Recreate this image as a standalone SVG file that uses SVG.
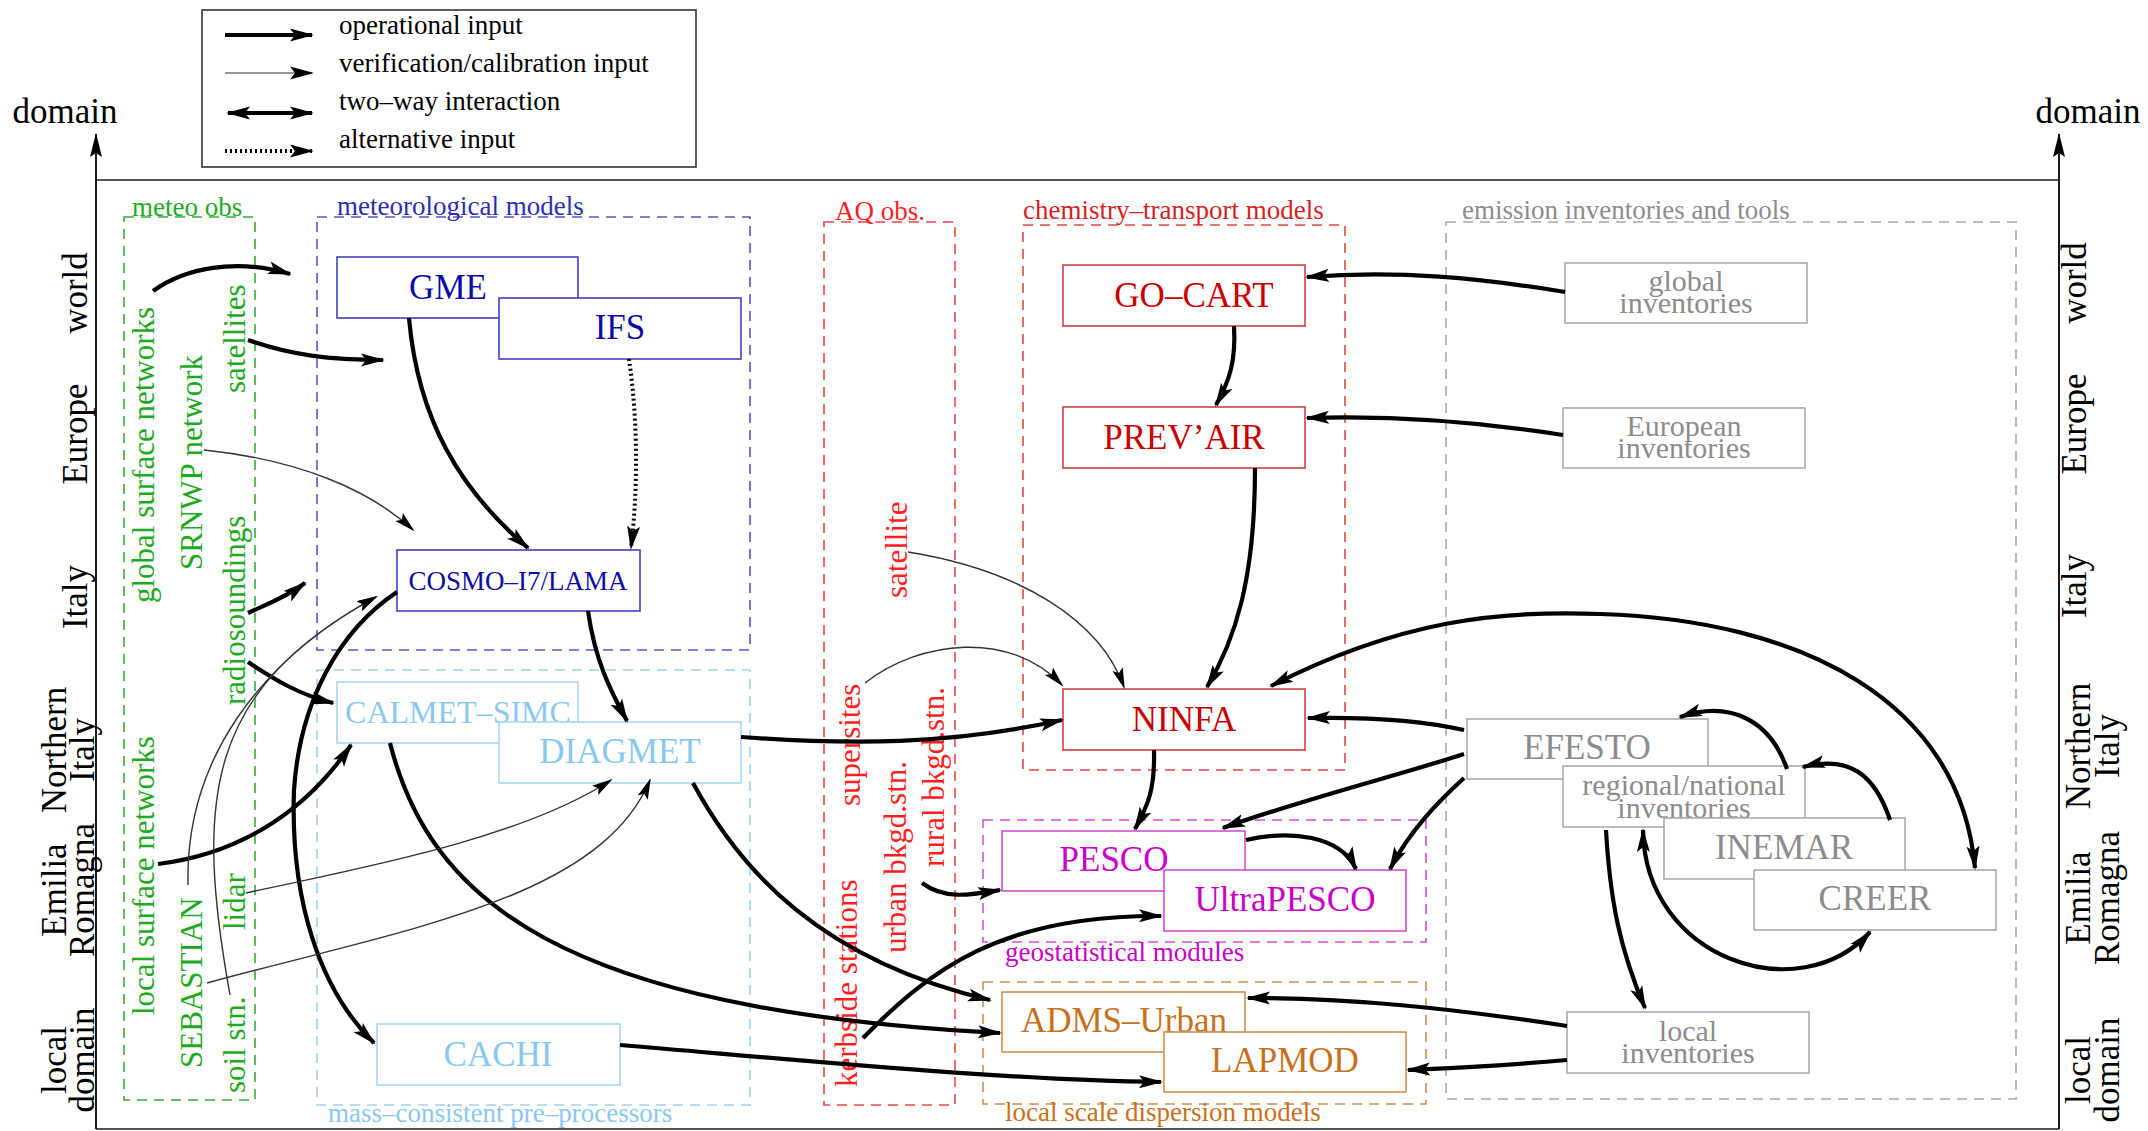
<svg xmlns="http://www.w3.org/2000/svg" width="2148" height="1131" viewBox="0 0 2148 1131">
<defs>
<marker id="ah" markerWidth="26" markerHeight="16" refX="22" refY="8" orient="auto" markerUnits="userSpaceOnUse"><path d="M0,1.5 L24,8 L0,14.5 L5,8 z" fill="#000"/></marker>
<marker id="ah2" markerWidth="26" markerHeight="16" refX="22" refY="8" orient="auto-start-reverse" markerUnits="userSpaceOnUse"><path d="M0,1.5 L24,8 L0,14.5 L5,8 z" fill="#000"/></marker>
<marker id="at" markerWidth="22" markerHeight="14" refX="19" refY="7" orient="auto" markerUnits="userSpaceOnUse"><path d="M0,1.5 L21,7 L0,12.5 L4,7 z" fill="#000"/></marker>
<marker id="ax" markerWidth="14" markerHeight="26" refX="6" refY="1" orient="0" markerUnits="userSpaceOnUse"><path d="M6,0 L12,24 L6,20 L0,24 z" fill="#000"/></marker>
</defs>
<style>
text{font-family:"Liberation Serif","Times New Roman",serif}
.axl{font-size:35px;fill:#000}
.lgt{font-size:27px;fill:#000}
.gl{font-size:27px}
.nd{font-size:35px;text-anchor:middle}
.nd2{font-size:30px;text-anchor:middle}
.ob{font-size:31px}
.grp{fill:none;stroke-width:1.6;stroke-dasharray:10 7}
.box{fill:#fff;stroke-width:1.6}
.op{fill:none;stroke:#000;stroke-width:4.2;marker-end:url(#ah)}
.tw{fill:none;stroke:#000;stroke-width:4.2;marker-start:url(#ah2);marker-end:url(#ah2)}
.al{fill:none;stroke:#000;stroke-width:4;stroke-dasharray:2 3;marker-end:url(#ah)}
.vf{fill:none;stroke:#333;stroke-width:1.4;marker-end:url(#at)}
.green{fill:#1eaa1e}.blue{fill:#0b0ba8}.lblue{fill:#88c8f0}.red{fill:#c80000}.bred{fill:#ff1f1f}.mag{fill:#c800c8}.orng{fill:#c8701a}.gray{fill:#8c8c8c}
</style>
<rect width="2148" height="1131" fill="#fff"/>

<g id="frame">
<line x1="96" y1="180" x2="2059" y2="180" stroke="#555" stroke-width="2"/>
<line x1="96" y1="1129" x2="2059" y2="1129" stroke="#555" stroke-width="2"/>
<line x1="96" y1="1129" x2="96" y2="134" stroke="#000" stroke-width="1.8" marker-end="url(#ax)"/>
<line x1="2059" y1="1129" x2="2059" y2="134" stroke="#000" stroke-width="1.8" marker-end="url(#ax)"/>
<text class="axl" x="65" y="123" text-anchor="middle">domain</text>
<text class="axl" x="2088" y="123" text-anchor="middle">domain</text>
<g class="axl" text-anchor="middle">
<text transform="translate(87,293) rotate(-90)">world</text>
<text transform="translate(87,434) rotate(-90)">Europe</text>
<text transform="translate(87,597) rotate(-90)">Italy</text>
<text transform="translate(66,750) rotate(-90)">Northern</text>
<text transform="translate(94,750) rotate(-90)">Italy</text>
<text transform="translate(66,890) rotate(-90)">Emilia</text>
<text transform="translate(94,890) rotate(-90)">Romagna</text>
<text transform="translate(66,1060) rotate(-90)">local</text>
<text transform="translate(94,1060) rotate(-90)">domain</text>
<text transform="translate(2086,283) rotate(-90)">world</text>
<text transform="translate(2086,424) rotate(-90)">Europe</text>
<text transform="translate(2086,586) rotate(-90)">Italy</text>
<text transform="translate(2090,746) rotate(-90)">Northern</text>
<text transform="translate(2119,746) rotate(-90)">Italy</text>
<text transform="translate(2090,898) rotate(-90)">Emilia</text>
<text transform="translate(2119,898) rotate(-90)">Romagna</text>
<text transform="translate(2090,1070) rotate(-90)">local</text>
<text transform="translate(2119,1070) rotate(-90)">domain</text>
</g>
</g>

<g id="legend">
<rect x="202" y="10" width="494" height="157" fill="#fff" stroke="#333" stroke-width="1.6"/>
<path d="M225,35 L312,35" class="op"/>
<path d="M225,73 L312,73" fill="none" stroke="#777" stroke-width="1.6" marker-end="url(#ah)"/>
<path d="M228,113 L312,113" class="tw"/>
<path d="M225,151 L312,151" class="al"/>
<text class="lgt" x="339" y="34">operational input</text>
<text class="lgt" x="339" y="72">verification/calibration input</text>
<text class="lgt" x="339" y="110">two–way interaction</text>
<text class="lgt" x="339" y="148">alternative input</text>
</g>

<g id="group-meteo-obs">
<rect class="grp" x="124" y="217" width="131" height="883" stroke="#3aaa3a"/>
<text class="gl green" x="132" y="216">meteo obs</text>
<g class="ob green">
<text transform="translate(154,603) rotate(-90)">global surface networks</text>
<text transform="translate(202,570) rotate(-90)">SRNWP network</text>
<text transform="translate(245,393) rotate(-90)">satellites</text>
<text transform="translate(245,705) rotate(-90)">radiosoundings</text>
<text transform="translate(154,1015) rotate(-90)">local surface networks</text>
<text transform="translate(202,1068) rotate(-90)">SEBASTIAN</text>
<text transform="translate(245,930) rotate(-90)">lidar</text>
<text transform="translate(245,1093) rotate(-90)">soil stn.</text>
</g>
</g>

<g id="group-meteorological-models">
<rect class="grp" x="317" y="217" width="433" height="433" stroke="#5555c8"/>
<text class="gl" x="337" y="215" fill="#2d2db5">meteorological models</text>
</g>
<g id="node-GME"><rect class="box" x="337" y="257" width="241" height="61" stroke="#4040c0"/><text class="nd blue" x="448" y="299">GME</text></g>
<g id="node-IFS"><rect class="box" x="499" y="298" width="242" height="61" stroke="#4040c0"/><text class="nd blue" x="620" y="339">IFS</text></g>
<g id="node-COSMO"><rect class="box" x="397" y="550" width="243" height="61" stroke="#4040c0"/><text class="nd blue" style="font-size:27px" x="518" y="590">COSMO–I7/LAMA</text></g>

<g id="group-mass-consistent">
<rect class="grp" x="317" y="670" width="433" height="435" stroke="#a0d0f0"/>
<text class="gl lblue" x="328" y="1122">mass–consistent pre–processors</text>
</g>
<g id="node-CALMET"><rect class="box" x="337" y="682" width="241" height="61" stroke="#a8d8f5"/><text class="nd lblue" style="font-size:32px" x="458" y="723">CALMET–SIMC</text></g>
<g id="node-DIAGMET"><rect class="box" x="499" y="722" width="242" height="61" stroke="#a8d8f5"/><text class="nd lblue" x="620" y="763">DIAGMET</text></g>
<g id="node-CACHI"><rect class="box" x="377" y="1024" width="243" height="61" stroke="#a8d8f5"/><text class="nd lblue" x="498" y="1066">CACHI</text></g>

<g id="group-aq-obs">
<rect class="grp" x="824" y="222" width="131" height="883" stroke="#e84848"/>
<text class="gl bred" x="835" y="220">AQ obs.</text>
<g class="ob bred">
<text transform="translate(907,598) rotate(-90)">satellite</text>
<text transform="translate(860,806) rotate(-90)">supersites</text>
<text transform="translate(857,1087) rotate(-90)">kerbside stations</text>
<text transform="translate(906,953) rotate(-90)">urban bkgd.stn.</text>
<text transform="translate(944,867) rotate(-90)">rural bkgd.stn.</text>
</g>
</g>

<g id="group-chemistry-transport">
<rect class="grp" x="1023" y="225" width="322" height="545" stroke="#e04848"/>
<text class="gl" x="1023" y="219" fill="#d81e1e">chemistry–transport models</text>
</g>
<g id="node-GOCART"><rect class="box" x="1063" y="265" width="242" height="61" stroke="#d04040"/><text class="nd red" x="1194" y="307">GO–CART</text></g>
<g id="node-PREVAIR"><rect class="box" x="1063" y="407" width="242" height="61" stroke="#d04040"/><text class="nd red" x="1184" y="449">PREV’AIR</text></g>
<g id="node-NINFA"><rect class="box" x="1063" y="689" width="242" height="61" stroke="#d04040"/><text class="nd red" x="1184" y="731">NINFA</text></g>

<g id="group-geostatistical">
<rect class="grp" x="983" y="820" width="443" height="122" stroke="#d050d0"/>
<text class="gl mag" x="1005" y="961">geostatistical modules</text>
</g>
<g id="node-PESCO"><rect class="box" x="1002" y="831" width="243" height="60" stroke="#d050d0"/><text class="nd mag" x="1114" y="871">PESCO</text></g>
<g id="node-UltraPESCO"><rect class="box" x="1164" y="870" width="242" height="61" stroke="#d050d0"/><text class="nd mag" x="1285" y="911">UltraPESCO</text></g>

<g id="group-local-dispersion">
<rect class="grp" x="983" y="982" width="443" height="122" stroke="#c89050"/>
<text class="gl orng" x="1005" y="1121">local scale dispersion models</text>
</g>
<g id="node-ADMS"><rect class="box" x="1002" y="992" width="243" height="60" stroke="#d09050"/><text class="nd orng" x="1124" y="1032">ADMS–Urban</text></g>
<g id="node-LAPMOD"><rect class="box" x="1164" y="1032" width="242" height="60" stroke="#d09050"/><text class="nd orng" x="1285" y="1072">LAPMOD</text></g>

<g id="group-emission">
<rect class="grp" x="1446" y="222" width="570" height="877" stroke="#a8a8a8"/>
<text class="gl gray" x="1462" y="219">emission inventories and tools</text>
</g>
<g id="node-global-inv"><rect class="box" x="1565" y="263" width="242" height="60" stroke="#aaa"/><text class="nd2 gray" x="1686" y="291">global</text><text class="nd2 gray" x="1686" y="313">inventories</text></g>
<g id="node-european-inv"><rect class="box" x="1563" y="408" width="242" height="60" stroke="#aaa"/><text class="nd2 gray" x="1684" y="436">European</text><text class="nd2 gray" x="1684" y="458">inventories</text></g>
<g id="node-EFESTO"><rect class="box" x="1467" y="719" width="241" height="60" stroke="#aaa"/><text class="nd gray" x="1587" y="759">EFESTO</text></g>
<g id="node-regional-inv"><rect class="box" x="1563" y="766" width="242" height="61" stroke="#aaa"/><text class="nd2 gray" x="1684" y="795">regional/national</text><text class="nd2 gray" x="1684" y="818">inventories</text></g>
<g id="node-INEMAR"><rect class="box" x="1664" y="818" width="241" height="61" stroke="#aaa"/><text class="nd gray" x="1784" y="859">INEMAR</text></g>
<g id="node-CREER"><rect class="box" x="1754" y="870" width="242" height="60" stroke="#aaa"/><text class="nd gray" x="1875" y="910">CREER</text></g>
<g id="node-local-inv"><rect class="box" x="1567" y="1012" width="242" height="61" stroke="#aaa"/><text class="nd2 gray" x="1688" y="1041">local</text><text class="nd2 gray" x="1688" y="1063">inventories</text></g>

<g id="connectors">
<path class="op" d="M153,291 C185,268 235,258 290,274"/>
<path class="op" d="M248,340 C290,355 330,360 383,360"/>
<path class="op" d="M248,613 C265,605 285,598 305,583"/>
<path class="op" d="M248,662 C275,680 300,695 333,703"/>
<path class="op" d="M409,318 C418,420 460,490 528,548"/>
<path class="al" d="M629,359 C638,420 638,490 631,548"/>
<path class="op" d="M588,611 C595,660 610,690 627,721"/>
<path class="op" d="M397,592 C340,630 300,700 294,790 C290,900 320,990 374,1043"/>
<path class="op" d="M158,864 C230,855 300,820 351,745"/>
<path class="op" d="M390,743 C430,900 560,1010 1000,1033"/>
<path class="op" d="M693,783 C740,870 820,960 990,1000"/>
<path class="op" d="M620,1045 C800,1060 1000,1080 1161,1082"/>
<path class="op" d="M741,737 C850,745 950,745 1062,720"/>
<path class="op" d="M1234,326 C1236,360 1230,380 1216,405"/>
<path class="op" d="M1255,468 C1255,580 1235,640 1207,687"/>
<path class="op" d="M1565,292 C1480,278 1400,270 1307,277"/>
<path class="op" d="M1563,435 C1480,422 1400,415 1307,418"/>
<path class="op" d="M1464,730 C1420,720 1360,717 1308,718"/>
<path class="op" d="M1464,754 C1400,775 1300,800 1223,828"/>
<path class="op" d="M1464,778 C1440,800 1410,830 1390,869"/>
<path class="op" d="M1154,750 C1155,790 1148,805 1135,829"/>
<path class="op" d="M1246,840 C1290,830 1340,835 1356,869"/>
<path class="op" d="M922,883 C945,900 970,895 1000,890"/>
<path class="op" d="M863,1038 C930,970 1000,915 1161,916"/>
<path class="op" d="M1567,1026 C1450,1008 1350,998 1248,998"/>
<path class="op" d="M1567,1060 C1500,1066 1450,1068 1408,1070"/>
<path class="tw" d="M1271,686 C1400,620 1500,610 1600,614 C1800,620 1960,700 1975,868"/>
<path class="op" d="M1787,769 C1770,720 1730,700 1680,717"/>
<path class="op" d="M1890,820 C1875,775 1850,755 1803,767"/>
<path class="tw" d="M1643,830 C1645,960 1800,1010 1870,932"/>
<path class="op" d="M1606,830 C1610,900 1620,950 1645,1008"/>
<path class="vf" d="M204,450 C300,460 370,490 413,530"/>
<path class="vf" d="M188,885 C185,760 260,660 376,597"/>
<path class="vf" d="M230,995 C195,800 205,690 376,597"/>
<path class="vf" d="M246,893 C350,870 520,840 611,780"/>
<path class="vf" d="M207,983 C400,930 600,900 650,780"/>
<path class="vf" d="M908,552 C1020,570 1100,620 1124,687"/>
<path class="vf" d="M865,683 C920,640 1010,630 1062,685"/>
</g>
</svg>
